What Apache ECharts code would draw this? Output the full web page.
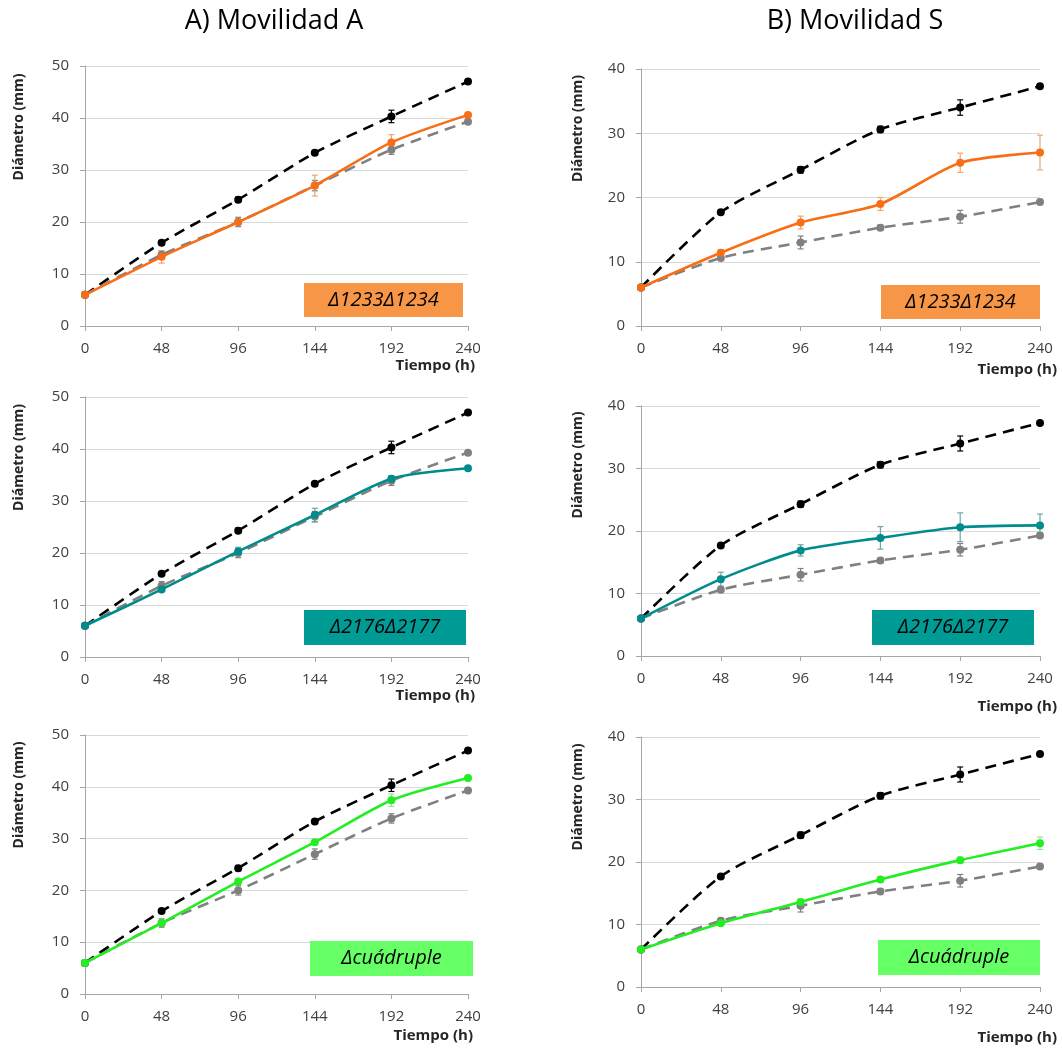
<!DOCTYPE html>
<html><head><meta charset="utf-8">
<script src="https://cdn.jsdelivr.net/npm/echarts@6/dist/echarts.min.js"></script>
<style>html,body{margin:0;padding:0;background:#fff}#c{width:1062px;height:1050px}</style>
</head><body><div id="c"></div>
<script>
const timeH = [0, 48, 96, 144, 192, 240];
const xTicks = [0, 48, 96, 144, 192, 240];
// Movilidad A
const wtA = [6, 16.0, 24.3, 33.3, 40.3, 47.0];
const wtAErr = [0, 0.3, 0.5, 0.4, 1.2, 0.3];
const ctrlA = [6, 13.7, 20.0, 27.0, 33.9, 39.3];
const ctrlAErr = [0, 0.8, 0.9, 1.0, 0.9, 0.3];
const d1233A = [6, 13.3, 20.0, 27.0, 35.3, 40.6];
const d1233AErr = [0, 1.2, 0.4, 2.0, 1.5, 0.3];
const d2176A = [6, 13.0, 20.3, 27.3, 34.3, 36.3];
const d2176AErr = [0, 0.4, 0.8, 1.3, 0.5, 0.3];
const dQuadA = [6, 13.7, 21.7, 29.3, 37.4, 41.7];
const dQuadAErr = [0, 0.3, 0.5, 0.5, 1.2, 0.3];
// Movilidad S
const wtS = [6, 17.7, 24.3, 30.6, 34.0, 37.3];
const wtSErr = [0, 0.3, 0.5, 0.5, 1.2, 0.3];
const ctrlS = [6, 10.6, 13.0, 15.3, 17.0, 19.3];
const ctrlSErr = [0, 0.4, 1.0, 0.4, 1.0, 0.4];
const d1233S = [6, 11.4, 16.1, 19.0, 25.4, 27.0];
const d1233SErr = [0, 0.5, 1.0, 1.0, 1.5, 2.7];
const d2176S = [6, 12.3, 16.9, 18.9, 20.6, 20.9];
const d2176SErr = [0, 1.1, 0.9, 1.8, 2.3, 1.8];
const dQuadS = [6, 10.2, 13.6, 17.2, 20.3, 23.0];
const dQuadSErr = [0, 0.3, 0.4, 0.4, 0.5, 1.0];

const titles = ['A) Movilidad A', 'B) Movilidad S'];
const strainLabels = ['\u03941233\u03941234', '\u03942176\u03942177', '\u0394cu\u00e1druple'];
const yName = 'Di\u00e1metro (mm)';
const xName = 'Tiempo (h)';

const FONT = 'Open Sans';
const colBlack = '#000000', colGrey = '#808080';
const strainCols = ['#F86E16', '#008C8C', '#22EE22'];
const errCols = ['#F0A56A', '#6FA6A6', '#8FE88F'];
const boxCols = ['#F79646', '#009B95', '#66FF66'];

const panels = [
  {g:{left:85,top:66,width:383,height:260}, ymax:50, yInt:10, col:0, wt:wtA, wtE:wtAErr, ct:ctrlA, ctE:ctrlAErr, st:d1233A, stE:d1233AErr, nameShift:138, nameGap:59, xPad:32, xGap:7, box:[304,283,159,34]},
  {g:{left:85,top:397,width:383,height:260}, ymax:50, yInt:10, col:1, wt:wtA, wtE:wtAErr, ct:ctrlA, ctE:ctrlAErr, st:d2176A, stE:d2176AErr, nameShift:139, nameGap:59, xPad:31, xGap:7, box:[304,610,162,35]},
  {g:{left:85,top:735,width:383,height:259}, ymax:50, yInt:10, col:2, wt:wtA, wtE:wtAErr, ct:ctrlA, ctE:ctrlAErr, st:dQuadA, stE:dQuadAErr, nameShift:139, nameGap:59, xPad:34, xGap:5, box:[310,941,163,35]},
  {g:{left:641,top:69,width:399,height:257}, ymax:40, yInt:10, col:0, wt:wtS, wtE:wtSErr, ct:ctrlS, ctE:ctrlSErr, st:d1233S, stE:d1233SErr, nameShift:138, nameGap:56, xPad:36, xGap:17, box:[881,285,159,34]},
  {g:{left:641,top:406,width:399,height:250}, ymax:40, yInt:10, col:1, wt:wtS, wtE:wtSErr, ct:ctrlS, ctE:ctrlSErr, st:d2176S, stE:d2176SErr, nameShift:132, nameGap:56, xPad:43, xGap:17, box:[872,610,162,35]},
  {g:{left:641,top:737,width:399,height:250}, ymax:40, yInt:10, col:2, wt:wtS, wtE:wtSErr, ct:ctrlS, ctE:ctrlSErr, st:dQuadS, stE:dQuadSErr, nameShift:130, nameGap:56, xPad:43, xGap:17, box:[878,940,162,35]}
];

function errData(vals, errs) {
  const out = [];
  timeH.forEach((t, i) => { if (errs[i] > 0) out.push([t, vals[i] - errs[i], vals[i] + errs[i]]); });
  return out;
}
function errSeries(idx, vals, errs, color, z) {
  return {
    type: 'custom', xAxisIndex: idx, yAxisIndex: idx, z: z, silent: true,
    data: errData(vals, errs),
    renderItem: function (params, api) {
      const x = api.value(0);
      const a = api.coord([x, api.value(2)]);
      const b = api.coord([x, api.value(1)]);
      const w = 3;
      const st = {stroke: color, lineWidth: 1.2};
      return {type: 'group', children: [
        {type: 'line', shape: {x1: a[0], y1: a[1], x2: b[0], y2: b[1]}, style: st},
        {type: 'line', shape: {x1: a[0] - w, y1: a[1], x2: a[0] + w, y2: a[1]}, style: st},
        {type: 'line', shape: {x1: b[0] - w, y1: b[1], x2: b[0] + w, y2: b[1]}, style: st}
      ]};
    }
  };
}
function lineSeries(idx, vals, color, dashed, z) {
  return {
    type: 'line', xAxisIndex: idx, yAxisIndex: idx, z: z,
    data: timeH.map((t, i) => [t, vals[i]]),
    smooth: 0.25, symbol: 'circle', symbolSize: 8,
    itemStyle: {color: color},
    lineStyle: {color: color, width: 2.6, type: dashed ? [11, 7] : 'solid'},
    animation: false
  };
}

const grid = [], xAxis = [], yAxis = [], series = [], graphic = [];
panels.forEach((p, i) => {
  grid.push(Object.assign({containLabel: false}, p.g));
  xAxis.push({
    type: 'value', gridIndex: i, min: xTicks[0], max: xTicks[xTicks.length - 1], interval: xTicks[1] - xTicks[0],
    axisLine: {lineStyle: {color: '#A6A6A6', width: 1}},
    axisTick: {show: true, length: 5, lineStyle: {color: '#A6A6A6'}},
    splitLine: {show: false},
    axisLabel: {color: '#404040', fontFamily: FONT, fontSize: 15, margin: 15},
    name: xName, nameLocation: 'end', nameGap: p.xGap,
    nameTextStyle: {fontFamily: FONT, fontWeight: 'bold', fontSize: 15, color: '#262626', align: 'right', verticalAlign: 'top', padding: [p.xPad, 0, 0, 0]}
  });
  yAxis.push({
    type: 'value', gridIndex: i, min: 0, max: p.ymax, interval: p.yInt,
    axisLine: {show: true, lineStyle: {color: '#A6A6A6', width: 1}},
    axisTick: {show: true, length: 5, lineStyle: {color: '#A6A6A6'}},
    splitLine: {show: true, lineStyle: {color: '#D9D9D9', width: 1}},
    axisLabel: {color: '#404040', fontFamily: FONT, fontSize: 15, margin: 16},
    name: yName, nameLocation: 'middle', nameGap: p.nameGap, nameRotate: 90,
    nameTextStyle: {fontFamily: FONT, fontWeight: 'bold', fontSize: 14, color: '#262626', padding: [0, 0, 0, p.nameShift]}
  });
  series.push(errSeries(i, p.wt, p.wtE, colBlack, 3));
  series.push(errSeries(i, p.ct, p.ctE, colGrey, 3));
  series.push(errSeries(i, p.st, p.stE, errCols[p.col], 3));
  series.push(lineSeries(i, p.wt, colBlack, true, 4));
  series.push(lineSeries(i, p.ct, colGrey, true, 4));
  series.push(lineSeries(i, p.st, strainCols[p.col], false, 5));
  const b = p.box;
  graphic.push({type: 'rect', left: b[0], top: b[1], shape: {width: b[2], height: b[3]}, style: {fill: boxCols[p.col]}, z: 10});
  graphic.push({type: 'text', x: b[0] + b[2] / 2, y: b[1] + b[3] / 2, z: 11,
    style: {text: strainLabels[p.col], fill: '#000', font: 'italic 20px "' + FONT + '"', align: 'center', verticalAlign: 'middle'}});
});

const chart = echarts.init(document.getElementById('c'), null, {renderer: 'canvas'});
chart.setOption({
  backgroundColor: '#ffffff',
  animation: false,
  title: [
    {text: titles[0], left: 269, top: 3, textAlign: 'center', textStyle: {fontFamily: FONT, fontWeight: 'normal', fontSize: 27, color: '#000'}},
    {text: titles[1], left: 850, top: 3, textAlign: 'center', textStyle: {fontFamily: FONT, fontWeight: 'normal', fontSize: 27, color: '#000'}}
  ],
  grid: grid, xAxis: xAxis, yAxis: yAxis, series: series, graphic: graphic
});
</script></body></html>
